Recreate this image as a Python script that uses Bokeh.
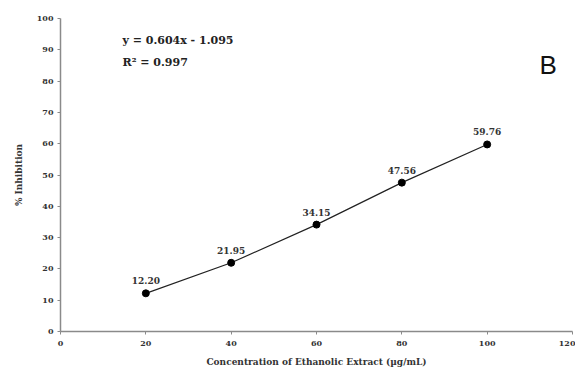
from bokeh.plotting import figure
from bokeh.models import Range1d, FixedTicker, Label, ColumnDataSource
from bokeh.core.properties import value
from bokeh.embed import file_html
from bokeh.resources import INLINE

concentration = [20, 40, 60, 80, 100]
inhibition = [12.20, 21.95, 34.15, 47.56, 59.76]
point_labels = ["12.20", "21.95", "34.15", "47.56", "59.76"]
x_ticks = [0, 20, 40, 60, 80, 100, 120]
y_ticks = [0, 10, 20, 30, 40, 50, 60, 70, 80, 90, 100]

SERIF = "DejaVu Serif"

p = figure(width=575, height=369, output_backend="svg", toolbar_location=None,
           x_range=Range1d(0, 120), y_range=Range1d(0, 100),
           min_border_left=60, min_border_right=3, min_border_top=18, min_border_bottom=37)
p.outline_line_color = None
p.grid.visible = False
p.background_fill_color = "white"

for ax in (p.xaxis[0], p.yaxis[0]):
    ax.axis_line_color = "#8a8a8a"
    ax.axis_line_width = 1.5
    ax.major_tick_line_color = "#8a8a8a"
    ax.major_tick_out = 3
    ax.major_tick_in = 0
    ax.minor_tick_line_color = None
    ax.major_label_text_font = SERIF
    ax.major_label_text_font_style = "bold"
    ax.major_label_text_font_size = "8px"
    ax.major_label_text_color = "#333333"
    ax.axis_label_text_font = SERIF
    ax.axis_label_text_font_style = "bold"
    ax.axis_label_text_font_size = "9px"
    ax.axis_label_text_color = "#333333"
    ax.major_label_standoff = 4

p.xaxis[0].ticker = FixedTicker(ticks=x_ticks)
p.yaxis[0].ticker = FixedTicker(ticks=y_ticks)
p.xaxis[0].axis_label = "Concentration of Ethanolic Extract (µg/mL)"
p.yaxis[0].axis_label = "% Inhibition"
p.xaxis[0].major_label_standoff = 6
p.xaxis[0].axis_label_standoff = 8
p.yaxis[0].axis_label_standoff = 10

src = ColumnDataSource(dict(x=concentration, y=inhibition, t=point_labels))
p.line("x", "y", source=src, line_color="#222222", line_width=1.2)
p.scatter("x", "y", source=src, size=7, color="black")
p.text("x", "y", text="t", source=src, y_offset=-9, text_align="center",
       text_baseline="bottom", text_font=value(SERIF), text_font_style="bold",
       text_font_size="9px", text_color="#333333")

p.add_layout(Label(x=62, y=291, x_units="screen", y_units="screen",
                   text="y = 0.604x - 1.095", text_font=SERIF, text_font_style="bold",
                   text_font_size="11px", text_color="#222222", text_baseline="middle"))
p.add_layout(Label(x=62, y=269, x_units="screen", y_units="screen",
                   text="R² = 0.997", text_font=SERIF, text_font_style="bold",
                   text_font_size="11px", text_color="#222222", text_baseline="middle"))
p.add_layout(Label(x=479, y=267, x_units="screen", y_units="screen",
                   text="B", text_font="Liberation Sans", text_font_size="26px",
                   text_color="#111111", text_baseline="middle"))

open("out.html", "w").write(file_html(p, INLINE))
